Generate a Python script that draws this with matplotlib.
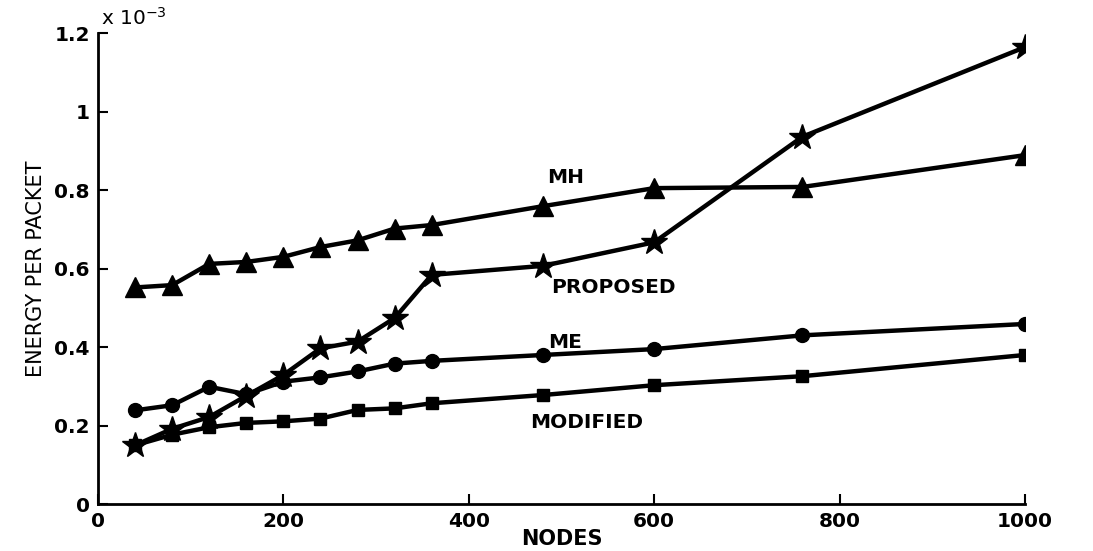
import matplotlib
matplotlib.use("Agg")
import matplotlib.pyplot as plt
from matplotlib.ticker import FuncFormatter, FixedLocator

# ---- data (energy per packet, in joules) ----
nodes = [40, 80, 120, 160, 200, 240, 280, 320, 360, 480, 600, 760, 1000]
mh = [0.552, 0.558, 0.612, 0.617, 0.630, 0.655, 0.672, 0.702, 0.711, 0.759, 0.805, 0.808, 0.889]
proposed = [0.150, 0.192, 0.222, 0.276, 0.329, 0.397, 0.414, 0.474, 0.584, 0.607, 0.667, 0.936, 1.164]
me = [0.239, 0.252, 0.299, 0.280, 0.312, 0.323, 0.338, 0.358, 0.365, 0.380, 0.395, 0.430, 0.459]
modified = [0.150, 0.177, 0.196, 0.207, 0.211, 0.218, 0.240, 0.244, 0.257, 0.278, 0.303, 0.326, 0.380]
scale = 1e-3
mh = [v * scale for v in mh]
proposed = [v * scale for v in proposed]
me = [v * scale for v in me]
modified = [v * scale for v in modified]

xticks = [0, 200, 400, 600, 800, 1000]
yticks = [0, 0.2e-3, 0.4e-3, 0.6e-3, 0.8e-3, 1.0e-3, 1.2e-3]

fig = plt.figure(figsize=(10.93, 5.51), dpi=100)
ax = fig.add_axes([0.0897, 0.085, 0.848, 0.855])

lw = 3.2
ax.plot(nodes, mh, color="black", lw=lw, marker="^", ms=14, mfc="black", mec="black")
ax.plot(nodes, proposed, color="black", lw=lw, marker="*", ms=19, mfc="black", mec="black")
ax.plot(nodes, me, color="black", lw=lw, marker="o", ms=10, mfc="black", mec="black")
ax.plot(nodes, modified, color="black", lw=lw, marker="s", ms=9, mfc="black", mec="black")

ax.set_xlim(0, 1000)
ax.set_ylim(0, 1.2e-3)
ax.xaxis.set_major_locator(FixedLocator(xticks))
ax.yaxis.set_major_locator(FixedLocator(yticks))
ax.yaxis.set_major_formatter(FuncFormatter(lambda v, p: f"{v / scale:g}"))
ax.xaxis.set_major_formatter(FuncFormatter(lambda v, p: f"{v:g}"))

for s in ["top", "right"]:
    ax.spines[s].set_visible(False)
for s in ["left", "bottom"]:
    ax.spines[s].set_linewidth(2)

ax.tick_params(direction="in", length=7, width=1.5, pad=6)
for lab in ax.get_xticklabels() + ax.get_yticklabels():
    lab.set_fontfamily("DejaVu Sans")
    lab.set_fontweight("bold")
    lab.set_fontsize(14.5)

ax.set_xlabel("NODES", fontsize=15, fontweight="bold", family="DejaVu Sans", labelpad=-2)
ax.set_ylabel("ENERGY PER PACKET", fontsize=15,
              family=["Liberation Sans Narrow", "DejaVu Sans"], labelpad=6)

ax.text(0.003, 1.008, r"x 10$^{-3}$", transform=ax.transAxes, fontsize=14.5,
        family="DejaVu Sans", ha="left", va="bottom")

lab_kw = dict(fontsize=14.5, fontweight="bold", family="DejaVu Sans", ha="center", va="center")
ax.text(504, 0.833e-3, "MH", **lab_kw)
ax.text(556, 0.553e-3, "PROPOSED", **lab_kw)
ax.text(504, 0.413e-3, "ME", **lab_kw)
ax.text(527, 0.209e-3, "MODIFIED", **lab_kw)

fig.savefig("out.png", dpi=100)
